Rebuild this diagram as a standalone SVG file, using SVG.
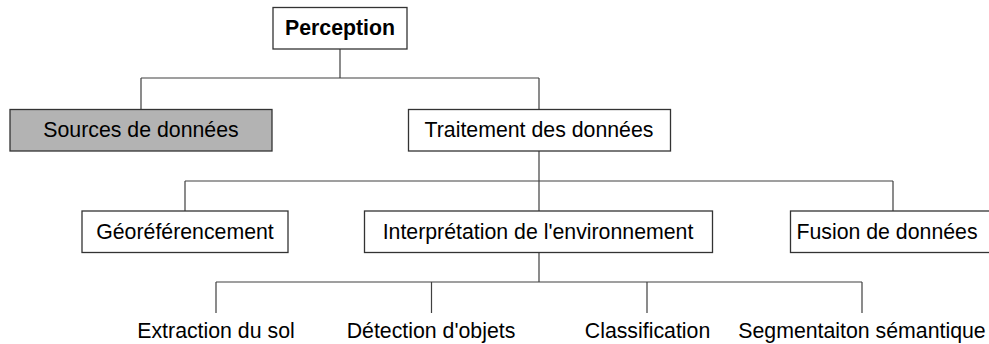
<svg xmlns="http://www.w3.org/2000/svg" width="989" height="344" viewBox="0 0 989 344">
<style>
.box{fill:#ffffff;stroke:#333333;stroke-width:1.3}
.gray{fill:#b3b3b3}
.t{font-family:"Liberation Sans",Arial,sans-serif;font-size:21.3px;fill:#000000;text-anchor:middle}
.b{font-weight:bold}
.c{fill:none;stroke:#404040;stroke-width:1.2}
</style>
<rect width="989" height="344" fill="#ffffff"/>
<g id="connectors">
<path class="c" d="M340 49V78M141 78H539M141 78V109M539 78V109"/>
<path class="c" d="M539 151V181M185 181H893M185 181V211M539 181V211M893 181V211"/>
<path class="c" d="M539 252V282M216 282H862M216 282V313M431.5 282V313M647 282V313M862 282V313"/>
</g>
<g id="perception"><rect class="box" x="273" y="7.5" width="134" height="41.5"/><text class="t b" x="340" y="35">Perception</text></g>
<g id="sources"><rect class="box gray" x="10" y="109.5" width="262" height="41.5"/><text class="t" x="141" y="137">Sources de données</text></g>
<g id="traitement"><rect class="box" x="408.5" y="109.5" width="262" height="41.5"/><text class="t" x="539" y="137">Traitement des données</text></g>
<g id="georef"><rect class="box" x="82" y="211" width="206" height="41.5"/><text class="t" x="185" y="239">Géoréférencement</text></g>
<g id="interpretation"><rect class="box" x="364.5" y="211" width="348" height="41.5"/><text class="t" x="538" y="239">Interprétation de l'environnement</text></g>
<g id="fusion"><rect class="box" x="790.5" y="211" width="206" height="41.5"/><text class="t" x="887" y="239">Fusion de données</text></g>
<g id="extraction"><text class="t" x="216" y="338">Extraction du sol</text></g>
<g id="detection"><text class="t" x="431" y="338">Détection d'objets</text></g>
<g id="classification"><text class="t" x="647.5" y="338">Classification</text></g>
<g id="segmentation"><text class="t" x="862" y="338">Segmentaiton sémantique</text></g>
</svg>
